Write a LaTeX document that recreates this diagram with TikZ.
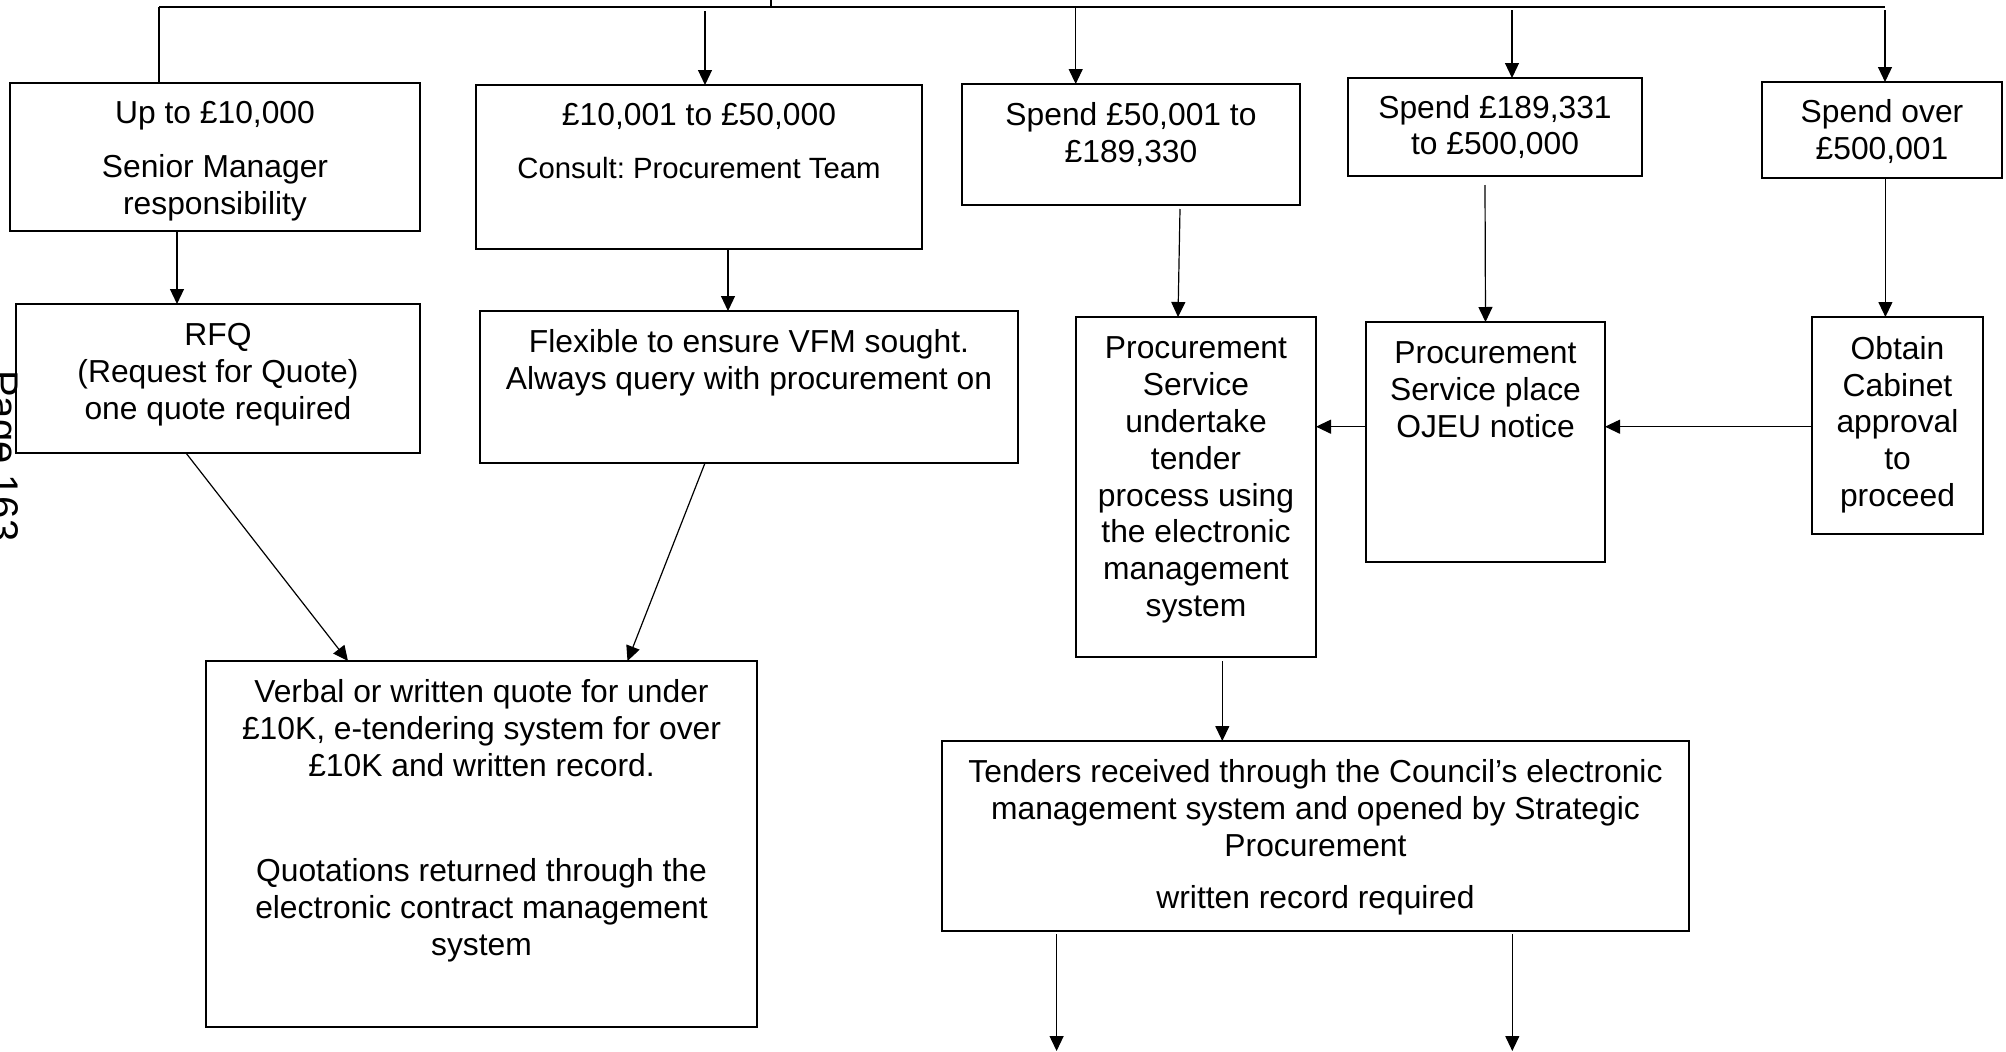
\documentclass[tikz,border=0pt]{standalone}
\usepackage{fontspec}
\setmainfont{Liberation Sans}
\usetikzlibrary{arrows.meta}
\frenchspacing

% text sizes
\newcommand\mainsize{\fontsize{31.8pt}{36.8pt}\selectfont}
\newcommand\smallsize{\fontsize{29.3pt}{33.7pt}\selectfont}
\newcommand\pagesize{\fontsize{40pt}{46pt}\selectfont}
% box body: width, height, top gap, centred lines
\newcommand\boxbody[4]{\parbox[c][#2pt][t]{#1pt}{\centering\vspace*{#3pt}\strut #4}}

\tikzset{
  box/.style={draw, line width=1.5pt, inner sep=0pt, outer sep=0pt,
              anchor=north west, font=\mainsize},
  wire/.style={line width=1.2pt},
  arr/.style={wire, -{Triangle[length=15pt, width=14pt]}}
}

\begin{document}
\begin{tikzpicture}[x=1pt, y=-1pt]
\useasboundingbox (0,0) rectangle (2006,1052);
\fill[white] (0,0) rectangle (2006,1052);

% page number along the left margin
\node[rotate=-90, anchor=base west, inner sep=0pt, font=\pagesize] (pg) at (-9.3,370) {Page 163};

% spend bands
\node[box] (b1) at (10,83)   {\boxbody{410}{148}{15.2}{Up to £10,000\\[17.2pt] Senior Manager\\ responsibility}};
\node[box] (b2) at (476,85)  {\boxbody{446}{164}{15.2}{£10,001 to £50,000\\[15.3pt] {\smallsize Consult: Procurement Team}}};
\node[box] (b3) at (962,84)  {\boxbody{338}{121}{16.2}{Spend £50,001 to\\ £189,330}};
\node[box] (b4) at (1348,78) {\boxbody{294}{98}{14.4}{Spend £189,331\\ to £500,000}};
\node[box] (b5) at (1762,82) {\boxbody{240}{96}{15.2}{Spend over\\ £500,001}};

% second row
\node[box] (rfq)  at (16,304)  {\boxbody{404}{149}{16.2}{RFQ\\ (Request for Quote)\\ one quote required}};
\node[box] (flex) at (480,311) {\boxbody{538}{152}{16.2}{Flexible to ensure VFM sought.\\ Always query with procurement on}};
\node[box] (proc) at (1076,317) {\boxbody{240}{340}{16.2}{Procurement\\ Service\\ undertake\\ tender\\ process using\\ the electronic\\ management\\ system}};
\node[box] (ojeu) at (1366,322) {\boxbody{239}{240}{16.2}{Procurement\\ Service place\\ OJEU notice}};
\node[box] (obtain) at (1812,317) {\boxbody{171}{217}{16.5}{Obtain\\ Cabinet\\ approval\\ to\\ proceed}};

% outcomes
\node[box] (verbal) at (206,661) {\boxbody{551}{366}{16}{Verbal or written quote for under\\ £10K, e-tendering system for over\\ £10K and written record.\\[68.8pt] Quotations returned through the\\ electronic contract management\\ system}};
\node[box] (tenders) at (942,741) {\boxbody{747}{190}{16}{Tenders received through the Council’s electronic\\ management system and opened by Strategic\\ Procurement\\[15.8pt] written record required}};

% distribution bus along the top
\coordinate (in)   at (771,0);
\coordinate (busL) at (159,7);
\coordinate (busR) at (1885,7);
\coordinate (t2) at (705,11);
\coordinate (t3) at (1075.7,7);
\coordinate (t4) at (1512,10);
\coordinate (t5) at (1885,10);
\draw[wire] (in) -- (in |- busL);
\draw[wire] (busL) -- (busR);
\draw[wire] (busL) -- (busL |- b1.north);
\draw[arr] (t2) -- (t2 |- b2.north);
\draw[arr] (t3) -- (t3 |- b3.north);
\draw[arr] (t4) -- (t4 |- b4.north);
\draw[arr] (t5) -- (t5 |- b5.north);

% bands to next steps
\draw[arr] ([xshift=-38pt]b1.south) -- ([xshift=-41pt]rfq.north);
\draw[arr] ([xshift=29pt]b2.south) -- ([xshift=-21pt]flex.north);
\draw[arr] ([xshift=49pt,yshift=-4pt]b3.south) -- ([xshift=-18pt]proc.north);
\draw[arr] ([xshift=-10pt,yshift=-9pt]b4.south) -- (ojeu.north);
\draw[arr] ([xshift=3.4pt]b5.south) -- ([xshift=-12.1pt]obtain.north);

% lower quotes
\draw[arr] ([xshift=-32pt]rfq.south) -- ([xshift=-133.5pt]verbal.north);
\draw[arr] ([xshift=-44pt]flex.south) -- ([xshift=146pt]verbal.north);

% tender chain
\draw[arr] ([yshift=-1.2pt]obtain.west) -- ([yshift=15.3pt]ojeu.east);
\draw[arr] ([yshift=15.3pt]ojeu.west) -- ([yshift=60.3pt]proc.east);
\draw[arr] ([xshift=26.3pt,yshift=-4pt]proc.south) -- ([xshift=-93.2pt]tenders.north);

% onward from the tenders box
\coordinate (o1) at (1056.6,1051);
\coordinate (o2) at (1512.3,1051);
\draw[arr] ([yshift=-3pt]tenders.south -| o1) -- (o1);
\draw[arr] ([yshift=-3pt]tenders.south -| o2) -- (o2);
\end{tikzpicture}
\end{document}
